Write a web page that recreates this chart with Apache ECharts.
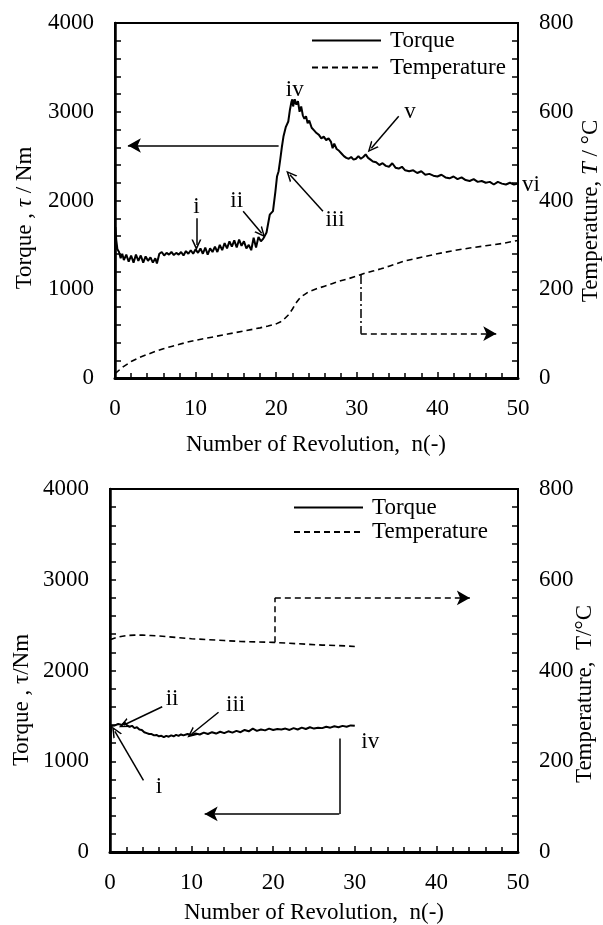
<!DOCTYPE html>
<html>
<head>
<meta charset="utf-8">
<script src="https://cdn.jsdelivr.net/npm/echarts@6/dist/echarts.min.js"></script>
<style>
  body { margin: 0; background: #fff; }
</style>
</head>
<body>
<div id="chart" style="width:603px;height:925px;"></div>
<script>
// ---- data (n = number of revolution) ----
// top chart
var torqueTop = [
  [0,0],[0.05,1700],[0.15,1560],[0.3,1450],[0.5,1420],[0.7,1350],[0.9,1400],[1.1,1330],[1.4,1390],[1.7,1310],
  [2.0,1380],[2.3,1300],[2.6,1390],[2.9,1320],[3.2,1380],[3.5,1300],[3.8,1370],[4.1,1320],[4.4,1360],[4.7,1300],
  [5.0,1350],[5.2,1290],[5.5,1400],[5.8,1420],[6.1,1380],[6.4,1410],[6.7,1390],[7.0,1420],[7.3,1385],[7.6,1410],
  [7.9,1390],[8.2,1420],[8.5,1380],[8.8,1430],[9.1,1400],[9.4,1440],[9.7,1400],[10.0,1450],[10.3,1410],[10.6,1460],
  [10.9,1400],[11.2,1470],[11.5,1390],[11.8,1460],[12.1,1420],[12.4,1480],[12.7,1420],[13.0,1500],[13.3,1440],[13.6,1520],
  [13.9,1460],[14.2,1540],[14.5,1480],[14.8,1550],[15.1,1470],[15.4,1560],[15.7,1490],[16.0,1540],[16.3,1460],[16.6,1500],
  [16.9,1440],[17.2,1580],[17.5,1470],[17.8,1590],[18.1,1540],[18.4,1570],[18.8,1640],[19.2,1840],[19.6,1880],[19.9,2100],
  [20.1,2270],[20.3,2330],[20.5,2460],[20.7,2600],[20.9,2720],[21.2,2830],[21.5,2890],[21.7,3020],[21.9,3115],[22.0,3140],
  [22.1,3060],[22.3,3140],[22.5,3080],[22.7,3120],[22.9,3000],[23.1,3060],[23.3,2960],[23.5,2920],[23.7,2950],[23.9,2870],
  [24.1,2900],[24.4,2820],[24.7,2790],[25.0,2760],[25.3,2740],[25.6,2700],[25.9,2720],[26.2,2680],[26.5,2700],[26.8,2660],
  [27.0,2590],[27.2,2640],[27.5,2580],[27.8,2560],[28.1,2530],[28.4,2500],[28.7,2480],[29.0,2470],[29.3,2490],[29.6,2460],
  [29.9,2470],[30.2,2500],[30.5,2470],[30.8,2490],[31.1,2520],[31.4,2480],[31.7,2460],[32.0,2440],[32.4,2430],[32.8,2400],
  [33.2,2420],[33.6,2390],[34.0,2380],[34.4,2420],[34.8,2370],[35.2,2360],[35.6,2380],[36.0,2340],[36.5,2330],[37.0,2340],
  [37.5,2310],[38.0,2330],[38.5,2290],[39.0,2300],[39.5,2280],[40.0,2270],[40.5,2290],[41.0,2260],[41.5,2250],[42.0,2270],
  [42.5,2240],[43.0,2260],[43.5,2230],[44.0,2220],[44.5,2240],[45.0,2210],[45.5,2220],[46.0,2200],[46.5,2210],[47.0,2180],
  [47.5,2210],[48.0,2190],[48.5,2180],[49.0,2200],[49.5,2180],[50.0,2190]
];
var tempTop = [
  [0,10],[1,25],[2,37],[3,46],[4,53],[5,60],[6,66],[7,71],[8,76],[9,81],[10,85],[12,92],[14,99],[16,106],[18,113],
  [19,117],[20,122],[20.5,126],[21,133],[21.5,142],[22,155],[22.5,170],[23,182],[23.5,188],[24,194],[25,201],[26,207],
  [27,213],[28,219],[29,224],[30,230],[31,236],[32,241],[33,246],[34,252],[35,258],[36,264],[37,268],[38,272],[40,280],
  [42,287],[44,293],[46,298],[48,303],[50,310]
];
// bottom chart
var torqueBot = [
  [0,0],[0.1,1300],[0.2,1390],[0.4,1370],[0.6,1395],[0.8,1380],[1.0,1410],[1.2,1420],[1.5,1400],[1.8,1425],
  [2.1,1395],[2.4,1380],[2.7,1390],[3.0,1365],[3.3,1375],[3.6,1350],[3.9,1345],[4.2,1320],[4.5,1310],[4.8,1300],
  [5.1,1300],[5.4,1285],[5.7,1290],[6.0,1275],[6.3,1280],[6.6,1265],[6.9,1280],[7.2,1270],[7.5,1285],[7.8,1275],
  [8.1,1290],[8.4,1280],[8.7,1295],[9.0,1285],[9.5,1300],[10,1290],[10.5,1305],[11,1295],[11.5,1315],[12,1300],
  [12.5,1320],[13,1305],[13.5,1325],[14,1310],[14.5,1330],[15,1315],[15.5,1335],[16,1320],[16.5,1345],[17,1330],
  [17.5,1360],[18,1335],[18.5,1350],[19,1340],[19.5,1360],[20,1345],[20.5,1355],[21,1350],[21.5,1360],[22,1345],
  [22.5,1365],[23,1350],[23.5,1370],[24,1355],[24.5,1375],[25,1360],[25.5,1370],[26,1365],[26.5,1380],[27,1370],
  [27.5,1385],[28,1375],[28.5,1390],[29,1380],[29.5,1395],[30,1390]
];
var tempBot = [
  [0,468],[1,474],[2,477],[3,478],[4,478],[5,477],[6,476],[8,473],[10,470],[12,468],[14,466],[16,464],[18,463],
  [20,462],[22,460],[24,458],[26,456],[28,455],[30,453]
];

var xTicks = [0, 50, 10];          // min, max, interval
var torqueTicks = [0, 4000, 1000];
var tempTicks = [0, 800, 200];

// annotation arrows, in data units (arrow head at the last point)
var arrowTopTorque = [[20.3,2620],[1.6,2620]];
var pointersTop = [
  [[10.1,1800],[10.1,1500]],
  [[15.9,1880],[18.2,1630]],
  [[25.8,1880],[21.7,2290]],
  [[35.2,2950],[31.8,2590]]
];
var tempArrowTop = [[30.5,232],[30.5,100],[47.3,100]];
var labelsTop = [['i',10.1,1930],['ii',15.1,2000],['iii',27.3,1780],['iv',22.3,3250],['v',36.6,3000],['vi',51.6,2180]];

var arrowBotTorque = [[28.1,1250],[28.1,420],[11.6,420]];
var pointersBot = [
  [[6.4,1600],[1.7,1400]],
  [[13.3,1540],[10.0,1300]],
  [[4.1,790],[0.6,1330]]
];
var tempArrowBot = [[20.2,462],[20.2,560],[44.1,560]];
var labelsBot = [['i',6.0,720],['ii',7.6,1690],['iii',15.4,1620],['iv',31.9,1210]];

var FONT = 'Liberation Serif';
var chevron = 'path://M0,10L5,0L10,10L8.4,10L5,3.2L1.6,10Z';

function xAxis(gi) {
  return {
    type: 'value', gridIndex: gi, min: xTicks[0], max: xTicks[1], interval: xTicks[2],
    axisLine: { lineStyle: { color: '#000', width: 3 } },
    axisTick: { inside: true, length: 6, lineStyle: { color: '#000', width: 1.5 } },
    minorTick: { show: true, splitNumber: 5, length: 5, lineStyle: { color: '#000', width: 1.5 } },
    axisLabel: { color: '#000', fontFamily: FONT, fontSize: 23, margin: 19 },
    splitLine: { show: false }
  };
}
function yAxis(gi, ticks, pos) {
  return {
    type: 'value', gridIndex: gi, position: pos, min: ticks[0], max: ticks[1], interval: ticks[2],
    axisLine: { show: true, onZero: false, lineStyle: { color: '#000', width: pos === 'left' ? 2.5 : 2 } },
    axisTick: { inside: true, length: 6, lineStyle: { color: '#000', width: 1.5 } },
    minorTick: { show: true, splitNumber: 5, length: 6, lineStyle: { color: '#000', width: 1.5 } },
    axisLabel: { color: '#000', fontFamily: FONT, fontSize: 23, margin: 21,
                 formatter: function (v) { return String(v); } },
    splitLine: { show: false }
  };
}

function segs(poly) {
  var out = [];
  for (var i = 0; i < poly.length - 1; i++) {
    var end = i === poly.length - 2;
    out.push([
      { coord: poly[i], symbol: 'none' },
      { coord: poly[i + 1], symbol: end ? 'arrow' : 'none', symbolSize: [11, 13] }
    ]);
  }
  return out;
}
function pointers(list) {
  return list.map(function (p) {
    return [{ coord: p[0], symbol: 'none' }, { coord: p[1], symbol: chevron, symbolSize: [10, 11] }];
  });
}
function markLine(data, type) {
  return {
    silent: true, animation: false, symbol: ['none', 'none'],
    label: { show: false },
    emphasis: { disabled: true },
    lineStyle: { color: '#000', width: 1.5, type: type || 'solid' },
    data: data
  };
}
function labelSeries(list, xi, yi) {
  return {
    type: 'scatter', xAxisIndex: xi, yAxisIndex: yi, clip: false, silent: true,
    symbolSize: 0, itemStyle: { color: '#000' },
    label: { show: true, position: 'inside', color: '#000', fontFamily: FONT, fontSize: 23,
             textBorderWidth: 0, opacity: 1,
             formatter: function (p) { return p.name; } },
    data: list.map(function (d) { return { name: d[0], value: [d[1], d[2]] }; })
  };
}

var tempTopLines = segs(tempArrowTop);
tempTopLines[0][0].lineStyle = { type: [9, 3, 2, 3] };

var legendCommon = {
  orient: 'vertical', itemWidth: 69, itemHeight: 14, padding: 0,
  itemStyle: { opacity: 0 },
  textStyle: { color: '#000', fontFamily: FONT, fontSize: 23, padding: [0, 0, 0, 4] },
  data: ['Torque', 'Temperature'], selectedMode: false
};

var option = {
  animation: false,
  grid: [
    { left: 115, top: 23, width: 403, height: 355, show: true, borderColor: '#000', borderWidth: 2 },
    { left: 110, top: 489, width: 408, height: 363, show: true, borderColor: '#000', borderWidth: 2 }
  ],
  legend: [
    Object.assign({}, legendCommon, { left: 311, top: 29, itemGap: 4 }),
    Object.assign({}, legendCommon, { left: 293, top: 496, itemGap: 1.5 })
  ],
  xAxis: [xAxis(0), xAxis(1)],
  yAxis: [
    yAxis(0, torqueTicks, 'left'), yAxis(0, tempTicks, 'right'),
    yAxis(1, torqueTicks, 'left'), yAxis(1, tempTicks, 'right')
  ],
  series: [
    { name: 'Torque', type: 'line', xAxisIndex: 0, yAxisIndex: 0, data: torqueTop, symbol: 'none',
      lineStyle: { color: '#000', width: 2 }, itemStyle: { color: '#000' },
      markLine: markLine(segs(arrowTopTorque).concat(pointers(pointersTop))) },
    { name: 'Temperature', type: 'line', xAxisIndex: 0, yAxisIndex: 1, data: tempTop, symbol: 'none',
      lineStyle: { color: '#000', width: 1.6, type: [6, 4] }, itemStyle: { color: '#000' },
      markLine: markLine(tempTopLines, [6, 4]) },
    { name: 'Torque', type: 'line', xAxisIndex: 1, yAxisIndex: 2, data: torqueBot, symbol: 'none',
      lineStyle: { color: '#000', width: 2 }, itemStyle: { color: '#000' },
      markLine: markLine(segs(arrowBotTorque).concat(pointers(pointersBot))) },
    { name: 'Temperature', type: 'line', xAxisIndex: 1, yAxisIndex: 3, data: tempBot, symbol: 'none',
      lineStyle: { color: '#000', width: 1.6, type: [6, 4] }, itemStyle: { color: '#000' },
      markLine: markLine(segs(tempArrowBot), [6, 4]) },
    labelSeries(labelsTop, 0, 0),
    labelSeries(labelsBot, 1, 2)
  ],
  graphic: [
    { type: 'text', x: 25, y: 218, rotation: Math.PI / 2,
      style: { text: 'Torque , {i|τ} / Nm', fill: '#000', font: '23px "Liberation Serif"', align: 'center', verticalAlign: 'middle',
               rich: { i: { fontStyle: 'italic', fontFamily: FONT, fontSize: 23 } } } },
    { type: 'text', x: 591, y: 211, rotation: Math.PI / 2,
      style: { text: 'Temperature, {i|T} / °C', fill: '#000', font: '23px "Liberation Serif"', align: 'center', verticalAlign: 'middle',
               rich: { i: { fontStyle: 'italic', fontFamily: FONT, fontSize: 23 } } } },
    { type: 'text', x: 316, y: 445,
      style: { text: 'Number of Revolution,  n(-)', fill: '#000', font: '23px "Liberation Serif"', align: 'center', verticalAlign: 'middle' } },
    { type: 'text', x: 22, y: 700, rotation: Math.PI / 2,
      style: { text: 'Torque , τ/Nm', fill: '#000', font: '23px "Liberation Serif"', align: 'center', verticalAlign: 'middle' } },
    { type: 'text', x: 585, y: 694, rotation: Math.PI / 2,
      style: { text: 'Temperature,  T/°C', fill: '#000', font: '23px "Liberation Serif"', align: 'center', verticalAlign: 'middle' } },
    { type: 'text', x: 314, y: 913,
      style: { text: 'Number of Revolution,  n(-)', fill: '#000', font: '23px "Liberation Serif"', align: 'center', verticalAlign: 'middle' } }
  ]
};

var myChart = echarts.init(document.getElementById('chart'));
myChart.setOption(option);
</script>
</body>
</html>
